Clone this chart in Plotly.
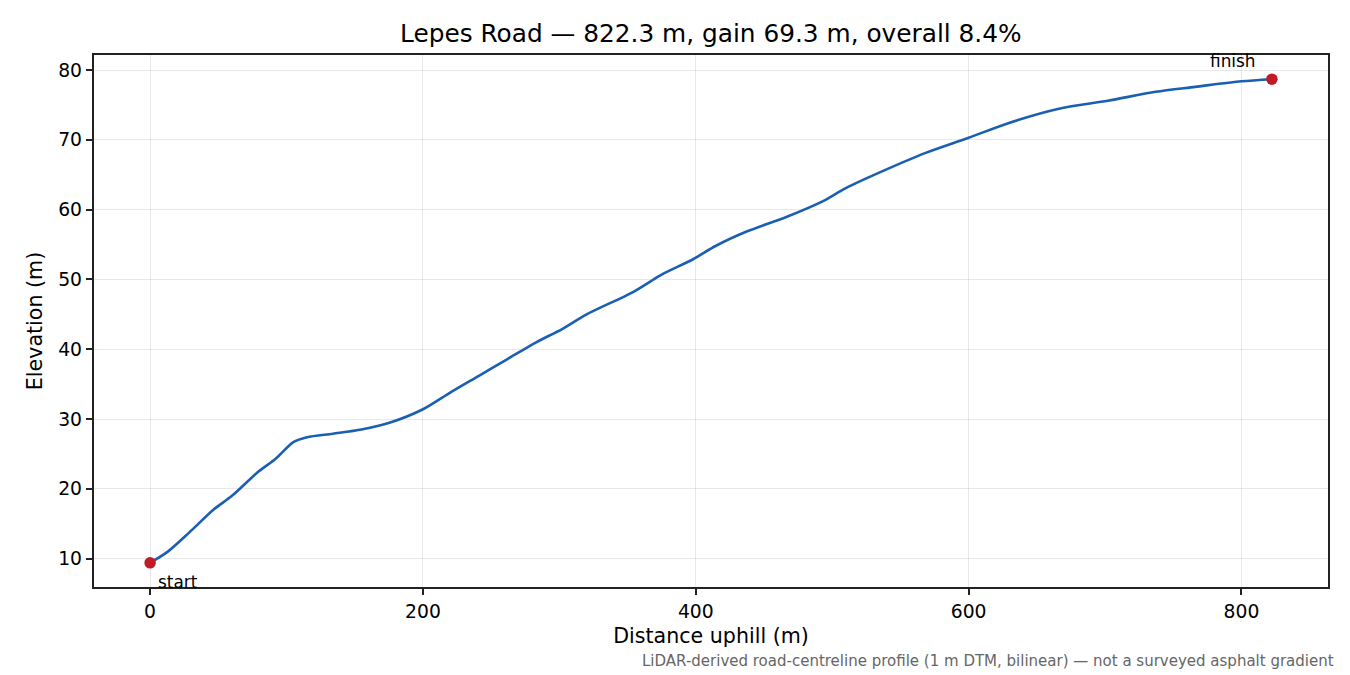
import plotly.graph_objects as go

distance_m = [0, 13, 29, 47, 60, 79, 92, 105, 115, 134, 155, 176, 200, 220, 241, 262, 283, 302, 320,
              354, 375, 398, 414.5, 437.7, 466.8, 492.9, 510, 539, 568, 600, 629, 667, 702, 737,
              766, 800, 822.3]
elevation_m = [9.4, 11.0, 13.8, 17.1, 19.0, 22.4, 24.3, 26.7, 27.4, 27.9, 28.5, 29.5, 31.4, 33.8,
               36.2, 38.6, 41.0, 42.9, 45.0, 48.2, 50.7, 52.9, 54.8, 56.9, 59.0, 61.2, 63.1, 65.7,
               68.1, 70.3, 72.4, 74.5, 75.6, 76.9, 77.6, 78.4, 78.7]
x_ticks = [0, 200, 400, 600, 800]
y_ticks = [10, 20, 30, 40, 50, 60, 70, 80]
title_text = "Lepes Road — 822.3 m, gain 69.3 m, overall 8.4%"
footnote = "LiDAR-derived road-centreline profile (1 m DTM, bilinear) — not a surveyed asphalt gradient"

FONT = "DejaVu Sans"
xmin, xmax = min(distance_m), max(distance_m)
ymin, ymax = min(elevation_m), max(elevation_m)
xpad = (xmax - xmin) * 0.05
ypad = (ymax - ymin) * 0.05

fig = go.Figure()
fig.add_trace(go.Scatter(x=distance_m, y=elevation_m, mode="lines",
                         line=dict(color="#1a5fb4", width=2.6, shape="spline", smoothing=0.8),
                         hoverinfo="skip", showlegend=False))
fig.add_trace(go.Scatter(x=[distance_m[0], distance_m[-1]], y=[elevation_m[0], elevation_m[-1]],
                         mode="markers", marker=dict(color="#c01c28", size=11.5),
                         showlegend=False))

fig.add_annotation(x=distance_m[0], y=elevation_m[0], text="start", showarrow=False,
                   xanchor="left", yanchor="middle", xshift=6, yshift=-19,
                   font=dict(family=FONT, size=16.9, color="#000"))
fig.add_annotation(x=distance_m[-1], y=elevation_m[-1], text="finish", showarrow=False,
                   xanchor="center", yanchor="middle", xshift=-39, yshift=18,
                   font=dict(family=FONT, size=16.9, color="#000"))

fig.add_annotation(xref="paper", yref="paper", x=0.5, y=1, yanchor="bottom", yshift=5,
                   text=title_text, showarrow=False,
                   font=dict(family=FONT, size=24.8, color="#000"))
fig.add_annotation(xref="paper", yref="paper", x=1.0065, y=0, xanchor="right", yanchor="top",
                   yshift=-63, text=footnote, showarrow=False,
                   font=dict(family=FONT, size=15, color="#666"))

axis_common = dict(showline=True, linecolor="#222", linewidth=1.5, mirror=True,
                   ticks="outside", ticklen=6.5, tickwidth=1.5, tickcolor="#222",
                   showgrid=True, gridcolor="rgba(0,0,0,0.09)", gridwidth=1.4,
                   zeroline=False, tickfont=dict(family=FONT, size=18.75, color="#000"))
fig.update_xaxes(range=[xmin - xpad, xmax + xpad], tickvals=x_ticks,
                 title=dict(text="Distance uphill (m)", font=dict(family=FONT, size=20.6, color="#000"),
                            standoff=8),
                 **axis_common)
fig.update_yaxes(range=[ymin - ypad, ymax + ypad], tickvals=y_ticks,
                 title=dict(text="Elevation (m)", font=dict(family=FONT, size=20.6, color="#000"),
                            standoff=10),
                 **axis_common)

fig.update_layout(width=1350, height=675, margin=dict(l=94, r=22, t=55, b=88),
                  plot_bgcolor="white", paper_bgcolor="white",
                  font=dict(family=FONT))
fig.write_html("out.html", config={"displayModeBar": False},
               post_script="document.body.style.margin='0';")
